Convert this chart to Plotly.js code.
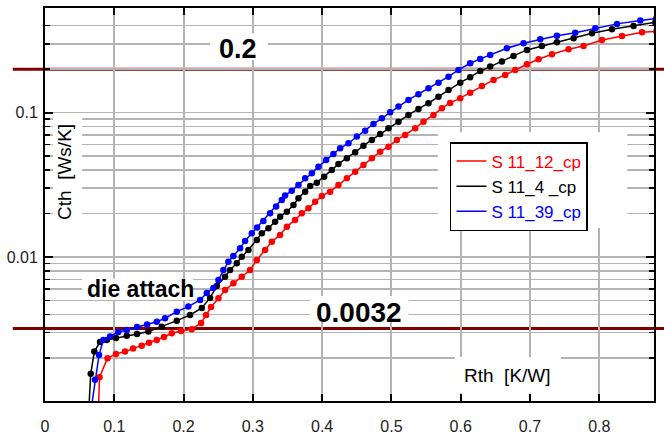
<!DOCTYPE html>
<html>
<head>
<meta charset="utf-8">
<script src="https://cdn.plot.ly/plotly-3.0.1.min.js"></script>
<style>html,body{margin:0;padding:0;background:#fff;}#chart{width:664px;height:438px;}</style>
</head>
<body>
<div id="chart"></div>
<script>
// ---- data (Rth in K/W, Cth in Ws/K) ----
const seriesNames = ['S 11_12_cp', 'S 11_4 _cp', 'S 11_39_cp'];

const redRth = [0.0765,0.0787,0.0903,0.1025,0.1155,0.1271,0.1396,0.1502,0.1613,0.1718,0.1830,0.1964,0.2118,0.2253,0.2325,0.2397,0.2503,0.2599,0.2719,0.2840,0.2960,0.3057,0.3177,0.3274,0.3394,0.3491,0.3610,0.3707,0.3802,0.3899,0.3996,0.4116,0.4235,0.4357,0.4477,0.4596,0.4718,0.4838,0.4957,0.5079,0.5199,0.5343,0.5463,0.5607,0.5729,0.5848,0.5993,0.6137,0.6306,0.6474,0.6643,0.6787,0.6956,0.7123,0.7317,0.7556,0.7773,0.8039,0.8328,0.8617,0.8823];
const redCth = [0.0007,0.00147,0.00199,0.00213,0.00221,0.00232,0.00243,0.00254,0.00266,0.00279,0.00296,0.00307,0.00316,0.00349,0.00396,0.0045,0.00517,0.00591,0.00657,0.0073,0.00812,0.00953,0.01118,0.01277,0.01421,0.01622,0.01805,0.02009,0.02175,0.02416,0.02647,0.02835,0.03155,0.03511,0.039,0.04341,0.04831,0.05367,0.05811,0.06469,0.07005,0.07798,0.08661,0.0964,0.1073,0.1168,0.1259,0.1376,0.1531,0.1685,0.1825,0.1977,0.2165,0.2345,0.254,0.2751,0.2899,0.319,0.3401,0.3608,0.3654];

const blackRth = [0.0621,0.0660,0.0712,0.0794,0.0891,0.1025,0.1180,0.1329,0.1492,0.1685,0.1902,0.2094,0.2263,0.2383,0.2479,0.2599,0.2671,0.2768,0.2840,0.2936,0.3057,0.3129,0.3225,0.3321,0.3394,0.3491,0.3586,0.3658,0.3755,0.3827,0.3923,0.4029,0.4140,0.4235,0.4357,0.4477,0.4596,0.4718,0.4838,0.4957,0.5102,0.5246,0.5390,0.5535,0.5679,0.5824,0.5993,0.6137,0.6282,0.6426,0.6595,0.6762,0.6956,0.7172,0.7389,0.7629,0.7895,0.8183,0.8495,0.8809];
const blackCth = [0.0007,0.00155,0.00221,0.00258,0.00266,0.00275,0.00284,0.00293,0.00304,0.00329,0.00362,0.00396,0.00443,0.0052,0.0063,0.0073,0.00812,0.00904,0.01005,0.01118,0.01312,0.0146,0.0158,0.01757,0.01903,0.0206,0.02293,0.02552,0.02835,0.03105,0.03273,0.03602,0.04009,0.04411,0.04831,0.05316,0.05905,0.06469,0.07117,0.07798,0.08661,0.0964,0.1061,0.1162,0.1291,0.1437,0.1614,0.176,0.1945,0.2084,0.2257,0.2471,0.272,0.2899,0.3075,0.3278,0.3549,0.3784,0.3989,0.4219];

const blueRth = [0.0635,0.0722,0.0780,0.0842,0.0939,0.1058,0.1180,0.1329,0.1473,0.1613,0.1733,0.1902,0.2069,0.2238,0.2335,0.2430,0.2503,0.2575,0.2647,0.2719,0.2816,0.2888,0.2985,0.3061,0.3152,0.3249,0.3336,0.3418,0.3466,0.3562,0.3658,0.3755,0.3851,0.3947,0.4058,0.4163,0.4260,0.4380,0.4501,0.4621,0.4741,0.4862,0.4982,0.5102,0.5246,0.5390,0.5535,0.5679,0.5824,0.5968,0.6137,0.6282,0.6426,0.6667,0.6907,0.7148,0.7389,0.7653,0.7942,0.8256,0.8592,0.8823];
const blueCth = [0.0007,0.00141,0.00209,0.00266,0.00281,0.00302,0.00312,0.00327,0.00341,0.00356,0.00376,0.00418,0.00453,0.00504,0.00563,0.0061,0.00693,0.00812,0.00928,0.01016,0.01149,0.01291,0.0146,0.01601,0.01776,0.02009,0.02239,0.02483,0.02669,0.0288,0.03155,0.03511,0.03802,0.04225,0.04699,0.05176,0.05662,0.06138,0.06823,0.07505,0.08354,0.09141,0.1007,0.1101,0.1225,0.1342,0.1476,0.1614,0.1776,0.1977,0.2199,0.2356,0.2512,0.2794,0.3027,0.3228,0.3404,0.3581,0.3846,0.4121,0.4345,0.4498];

const refLevels = [0.2, 0.0032];
const refLabels = ['0.2', '0.0032'];

const xTickVals = [0, 0.1, 0.2, 0.3, 0.4, 0.5, 0.6, 0.7, 0.8];
const xTickText = ['0', '0.1', '0.2', '0.3', '0.4', '0.5', '0.6', '0.7', '0.8'];
const yTickVals = [0.01, 0.1];
const yTickText = ['0.01', '0.1'];
const yMinorVals = [0.001,0.002,0.003,0.004,0.005,0.006,0.007,0.008,0.009,0.02,0.03,0.04,0.05,0.06,0.07,0.08,0.09,0.2,0.3,0.4];

// ---- styling ----
const FONT = '"Liberation Sans", Arial, sans-serif';
const colors = ['#ff0000', '#000000', '#0000ff'];
const seriesX = [redRth, blackRth, blueRth];
const seriesY = [redCth, blackCth, blueCth];

const traces = [];
for (let i = 0; i < 3; i++) {
  traces.push({
    x: seriesX[i], y: seriesY[i], type: 'scatter', mode: 'lines+markers',
    line: {color: colors[i], width: 1.5},
    marker: {color: colors[i], size: 6.5, symbol: 'circle'},
    showlegend: false, hoverinfo: 'skip'
  });
}
for (let i = 0; i < 3; i++) {
  traces.push({
    x: [null], y: [null], type: 'scatter', mode: 'lines',
    line: {color: colors[i], width: 1.5},
    name: '<span style="color:' + colors[i] + '">' + seriesNames[i] + '</span>',
    showlegend: true
  });
}

const GRID = '#b4b4b4';
// white gaps in the grid behind in-plot texts (paper coords)
const gaps = [
  [0.013, 0.061, 0.448, 0.728],   // Cth label
  [0.271, 0.366, 0.868, 0.935],   // 0.2 label
  [0.061, 0.243, 0.257, 0.311],   // die attach
  [0.435, 0.597, 0.201, 0.267],   // 0.0032
  [0.645, 0.956, 0.440, 0.684],   // legend area
  [0.673, 0.847, 0.020, 0.112]    // Rth label
];
const shapes = gaps.map(g => ({
  type: 'rect', xref: 'paper', yref: 'paper', x0: g[0], x1: g[1], y0: g[2], y1: g[3],
  fillcolor: '#ffffff', line: {width: 0}, layer: 'above'
}));
refLevels.forEach(v => shapes.push({
  type: 'line', xref: 'paper', yref: 'y', x0: -0.053, x1: 1.02, y0: v, y1: v,
  line: {color: '#800000', width: 3}, layer: 'between'
}));

function label(text, x, y, size, extra) {
  return Object.assign({text: text, xref: 'paper', yref: 'paper', x: x, y: y,
    xanchor: 'center', yanchor: 'middle', showarrow: false,
    font: {family: FONT, size: size, color: '#000'}}, extra || {});
}
const annotations = [
  label('<b>' + refLabels[0] + '</b>', 0.317, 0.896, 27),
  label('<b>' + refLabels[1] + '</b>', 0.515, 0.224, 28),
  label('<b>die attach</b>', 0.156, 0.285, 23),
  label('Rth  [K/W]', 0.759, 0.066, 19),
  label('Cth  [Ws/K]', 0.033, 0.583, 19, {textangle: -90})
];

const layout = {
  width: 664, height: 438,
  margin: {l: 45, r: 10, t: 8, b: 37},
  paper_bgcolor: '#fff', plot_bgcolor: '#fff',
  font: {family: FONT, size: 16, color: '#222'},
  showlegend: true,
  legend: {x: 0.665, y: 0.659, xanchor: 'left', yanchor: 'top', bgcolor: '#fff',
           bordercolor: '#000', borderwidth: 1.5, font: {family: FONT, size: 17},
           tracegroupgap: 0},
  xaxis: {
    type: 'linear', range: [0, 0.879], tickmode: 'array', tickvals: xTickVals, ticktext: xTickText,
    ticks: 'inside', ticklen: 7, tickwidth: 2, tickcolor: '#000', ticklabelstandoff: 10,
    showline: true, linecolor: '#000', linewidth: 2, mirror: 'ticks',
    showgrid: true, gridcolor: GRID, gridwidth: 2, zeroline: false,
    tickfont: {family: FONT, size: 16, color: '#222'}
  },
  yaxis: {
    type: 'log', range: [-2.998, -0.275], tickmode: 'array', tickvals: yTickVals, ticktext: yTickText,
    ticks: 'inside', ticklen: 8, tickwidth: 2, tickcolor: '#000', ticklabelstandoff: 2,
    showline: true, linecolor: '#000', linewidth: 2, mirror: 'ticks',
    showgrid: true, gridcolor: GRID, gridwidth: 1.5, zeroline: false,
    tickfont: {family: FONT, size: 16, color: '#222'},
    minor: {tickmode: 'array', tickvals: yMinorVals, ticks: 'inside', ticklen: 5, tickwidth: 1.5,
            tickcolor: '#000', showgrid: true, gridcolor: GRID, gridwidth: 1.5}
  },
  shapes: shapes,
  annotations: annotations
};

Plotly.newPlot('chart', traces, layout, {displayModeBar: false, staticPlot: true});
</script>
</body>
</html>
